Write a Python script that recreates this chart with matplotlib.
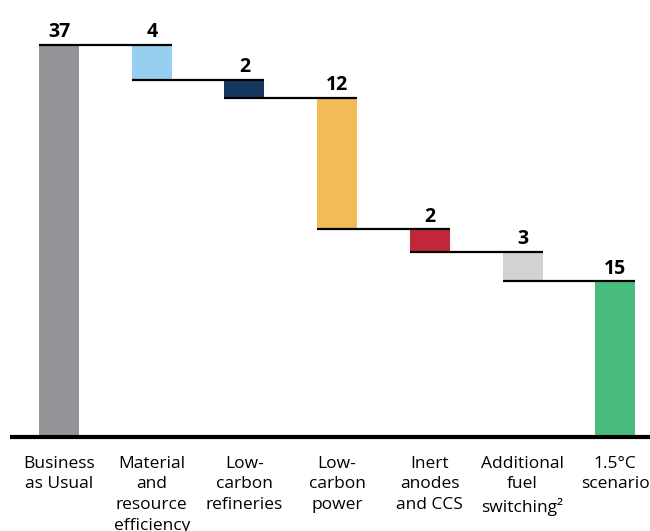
import matplotlib.pyplot as plt

# waterfall steps (bar heights, labels as printed)
categories = [
    "Business\nas Usual",
    "Material\nand\nresource\nefficiency",
    "Low-\ncarbon\nrefineries",
    "Low-\ncarbon\npower",
    "Inert\nanodes\nand CCS",
    "Additional\nfuel\nswitching²",
    "1.5°C\nscenario",
]
heights = [37.0, 3.3, 1.7, 12.4, 2.1, 2.8, 14.7]
value_labels = ["37", "4", "2", "12", "2", "3", "15"]
colors = ["#939598", "#97CFF1", "#15365E", "#F1BB55", "#C0273A", "#D1D2D4", "#48BB7D"]

plt.rcParams["font.family"] = ["Open Sans", "DejaVu Sans"]

fig = plt.figure(figsize=(6.5, 5.31), dpi=100)
ax = fig.add_axes([0, 94 / 531, 1, 437 / 531])

step = 92.7
x0 = 59
ax.set_xlim(-x0 / step, (650 - x0) / step)
ax.set_ylim(0, 437 / (392 / 37))

width = 40 / step

# compute bottoms: first and last are totals, middle steps go down
bottoms = []
level = heights[0]
for i, h in enumerate(heights):
    if i == 0 or i == len(heights) - 1:
        bottoms.append(0)
    else:
        level -= h
        bottoms.append(level)

tops = [b + h for b, h in zip(bottoms, heights)]

for i, (b, h, c) in enumerate(zip(bottoms, heights, colors)):
    ax.bar(i, h, bottom=b, width=width, color=c, linewidth=0)
    ax.text(i, tops[i] + 0.25, value_labels[i], ha="center", va="bottom",
            fontsize=14, fontweight="bold")

# connector lines from each bar's left edge to the next bar's right edge
levels = [tops[0]] + [bottoms[i] for i in range(1, len(heights) - 1)]
for i, lv in enumerate(levels):
    ax.plot([i - width / 2, i + 1 + width / 2], [lv, lv], color="black", lw=1.6,
            solid_capstyle="butt")

# baseline
ax.plot([-(x0 - 10) / step, 7], [0, 0], color="black", lw=3, clip_on=False,
        solid_capstyle="butt")

for i, cat in enumerate(categories):
    ax.text(i, -1.75, cat, ha="center", va="top", fontsize=12.5,
            linespacing=1.39, clip_on=False)

ax.axis("off")
fig.savefig("out.png", dpi=100)
